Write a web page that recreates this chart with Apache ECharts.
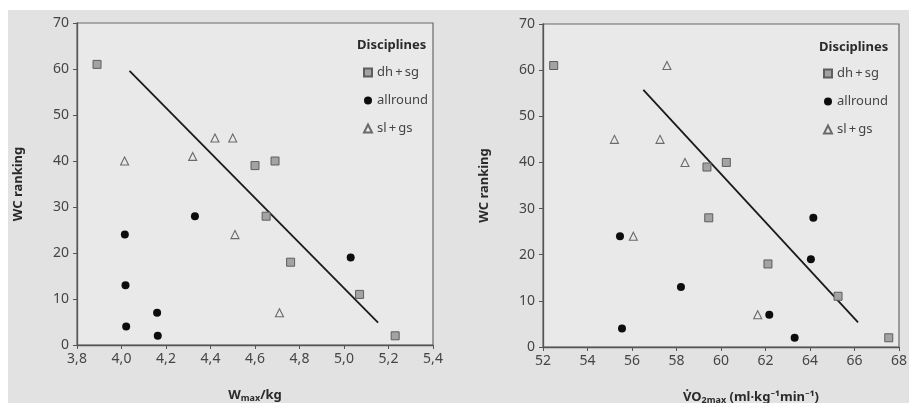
<!DOCTYPE html>
<html>
<head>
<meta charset="utf-8">
<script src="https://cdn.jsdelivr.net/npm/echarts@6/dist/echarts.min.js"></script>
<style>html,body{margin:0;padding:0;background:#fff}#c{width:909px;height:403px}</style>
</head>
<body>
<div id="c"></div>
<script>
// ---- data ----
const seriesNames = ['dh\u2009+\u2009sg', 'allround', 'sl\u2009+\u2009gs'];
// left panel: Wmax/kg
const dhsgW   = [3.89, 4.60, 4.69, 4.65, 4.76, 5.07, 5.23];
const dhsgWy  = [61, 39, 40, 28, 18, 11, 2];
const allW    = [4.015, 4.018, 4.021, 4.16, 4.163, 4.33, 5.03];
const allWy   = [24, 13, 4, 7, 2, 28, 19];
const slgsW   = [4.014, 4.32, 4.42, 4.50, 4.51, 4.71];
const slgsWy  = [40, 41, 45, 45, 24, 7];
const fitW    = [4.036, 5.153];
const fitWy   = [59.6, 4.85];
// right panel: VO2max
const dhsgV   = [52.48, 59.37, 60.24, 59.45, 62.11, 65.26, 67.54];
const dhsgVy  = [61, 39, 40, 28, 18, 11, 2];
const allV    = [55.46, 55.55, 58.20, 62.17, 63.31, 64.04, 64.15];
const allVy   = [24, 4, 13, 7, 2, 19, 28];
const slgsV   = [55.21, 57.57, 57.26, 58.38, 56.06, 61.65];
const slgsVy  = [45, 61, 45, 40, 24, 7];
const fitV    = [56.51, 66.16];
const fitVy   = [55.7, 5.35];

const zip = (xs, ys) => xs.map((x, i) => [x, ys[i]]);
const FONT = '"Noto Sans", sans-serif';
const TXT = '#454545';

const sqStyle = {color: '#a3a3a3', borderColor: '#5e5e5e', borderWidth: 1, opacity: 1};
const ciStyle = {color: '#0d0d0d', opacity: 1};
const trStyle = {color: 'rgba(0,0,0,0)', borderColor: '#6a6a6a', borderWidth: 1.1, opacity: 1};

function scatterSet(idx, a, b, c, fit) {
  return [
    {name: seriesNames[0], type: 'scatter', xAxisIndex: idx, yAxisIndex: idx, symbol: 'rect', symbolSize: 8, itemStyle: sqStyle, data: a, z: 3},
    {name: seriesNames[1], type: 'scatter', xAxisIndex: idx, yAxisIndex: idx, symbol: 'circle', symbolSize: 8, itemStyle: ciStyle, data: b, z: 3},
    {name: seriesNames[2], type: 'scatter', xAxisIndex: idx, yAxisIndex: idx, symbol: 'triangle', symbolSize: 8, itemStyle: trStyle, data: c, z: 3},
    {type: 'line', xAxisIndex: idx, yAxisIndex: idx, data: fit, showSymbol: false, symbol: 'none',
     lineStyle: {color: '#1a1a1a', width: 1.8}, silent: true, z: 2}
  ];
}

function xAxisCfg(idx, min, max, interval, name, digits, namePad) {
  return {
    gridIndex: idx, type: 'value', min: min, max: max, interval: interval,
    name: name, nameLocation: 'middle', nameGap: 42,
    nameTextStyle: {fontFamily: FONT, fontWeight: 'bold', fontSize: 13, color: '#2a2a2a', padding: namePad,
      rich: {
        b: {fontFamily: FONT, fontWeight: 'bold', fontSize: 13, color: '#2a2a2a'},
        sub: {fontFamily: FONT, fontWeight: 'bold', fontSize: 9, color: '#2a2a2a', padding: [7, 0, 0, 0]}
      }},
    axisLine: {show: true, lineStyle: {color: '#555', width: 1.3}},
    axisTick: {show: true, length: 4, lineStyle: {color: '#555', width: 1}},
    axisLabel: {margin: 7, fontFamily: FONT, fontSize: 14, color: TXT,
      formatter: v => v.toFixed(digits).replace('.', ',')},
    splitLine: {show: false}
  };
}
function yAxisCfg(idx) {
  return {
    gridIndex: idx, type: 'value', min: 0, max: 70, interval: 10,
    name: 'WC ranking', nameLocation: 'middle', nameGap: 52,
    nameTextStyle: {fontFamily: FONT, fontWeight: 'bold', fontSize: 13, color: '#2a2a2a'},
    axisLine: {show: true, lineStyle: {color: '#555', width: 1.3}},
    axisTick: {show: true, length: 4, lineStyle: {color: '#555', width: 1}},
    axisLabel: {margin: 8, fontFamily: FONT, fontSize: 14, color: TXT},
    splitLine: {show: false}
  };
}
function legendCfg(left, top) {
  return {
    data: seriesNames, orient: 'vertical', left: left, top: top,
    itemWidth: 8, itemHeight: 8, itemGap: 13, selectedMode: false,
    textStyle: {fontFamily: FONT, fontSize: 13, color: TXT, lineHeight: 15}
  };
}

const chart = echarts.init(document.getElementById('c'), null, {renderer: 'canvas'});
chart.setOption({
  backgroundColor: '#e2e2e2',
  animation: false,
  graphic: [
    {type: 'rect', shape: {x: 0, y: 0, width: 909, height: 10}, style: {fill: '#fff'}, z: -10, silent: true},
    {type: 'rect', shape: {x: 0, y: 0, width: 8, height: 403}, style: {fill: '#fff'}, z: -10, silent: true}
  ],
  title: [
    {text: 'Disciplines', left: 352, top: 34, textStyle: {fontFamily: FONT, fontWeight: 'bold', fontSize: 13, color: '#2a2a2a'}},
    {text: 'Disciplines', left: 814, top: 36, textStyle: {fontFamily: FONT, fontWeight: 'bold', fontSize: 13, color: '#2a2a2a'}}
  ],
  legend: [legendCfg(358, 60), legendCfg(818, 61)],
  grid: [
    {left: 77, right: 476, top: 23, bottom: 58, outerBoundsMode: 'none', containLabel: false, show: true, backgroundColor: '#e9e9e9', borderColor: '#6a6a6a', borderWidth: 1.2},
    {left: 543, right: 10, top: 24, bottom: 56, outerBoundsMode: 'none', containLabel: false, show: true, backgroundColor: '#e9e9e9', borderColor: '#6a6a6a', borderWidth: 1.2}
  ],
  xAxis: [
    xAxisCfg(0, 3.8, 5.4, 0.2, '{b|W}{sub|max}{b|/kg}', 1, [0, 0, 0, 0]),
    xAxisCfg(1, 52, 68, 2, '{b|V\u0307O}{sub|2max}{b| (ml\u00b7kg\u207b\u00b9min\u207b\u00b9)}', 0, [0, 0, 0, 60])
  ],
  yAxis: [yAxisCfg(0), yAxisCfg(1)],
  series: [].concat(
    scatterSet(0, zip(dhsgW, dhsgWy), zip(allW, allWy), zip(slgsW, slgsWy), zip(fitW, fitWy)),
    scatterSet(1, zip(dhsgV, dhsgVy), zip(allV, allVy), zip(slgsV, slgsVy), zip(fitV, fitVy))
  )
});
</script>
</body>
</html>
